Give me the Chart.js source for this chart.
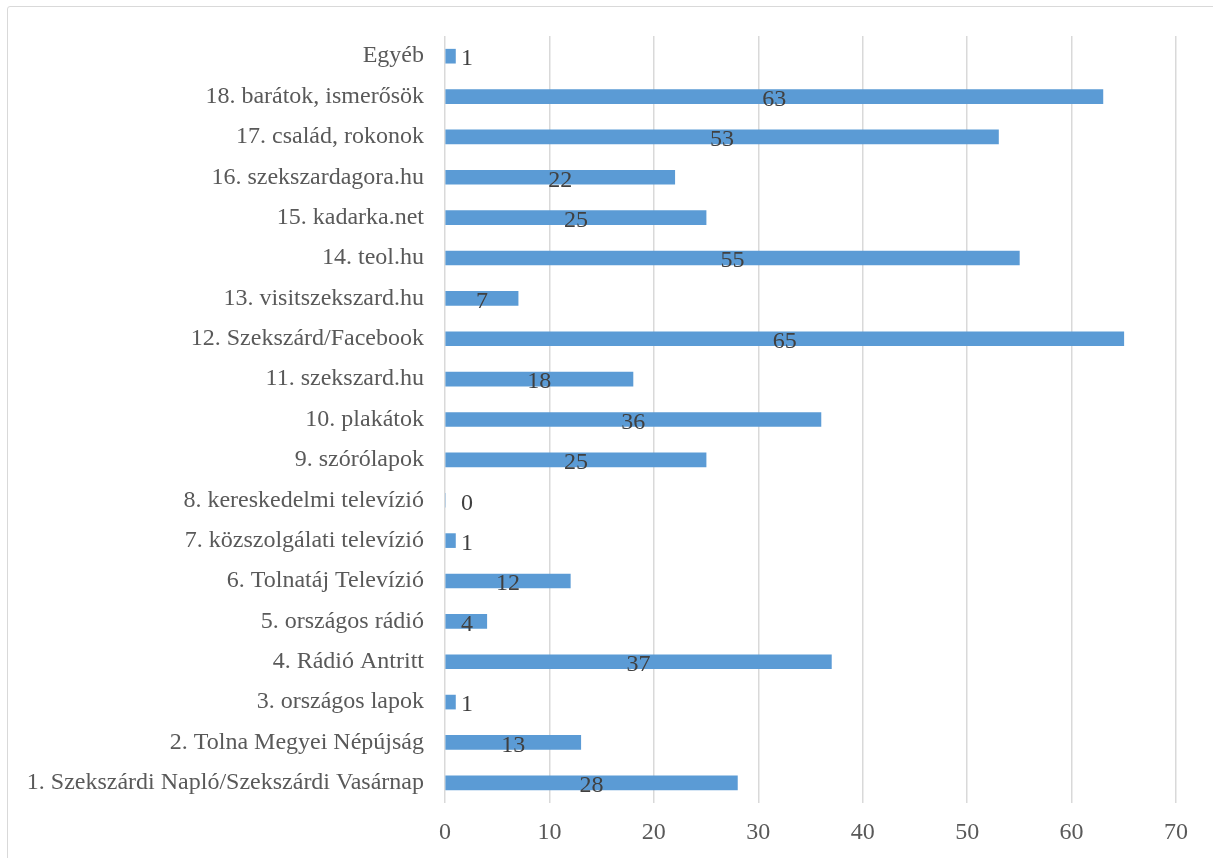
<!DOCTYPE html>
<html>
<head>
<meta charset="utf-8">
<script src="https://cdn.jsdelivr.net/npm/chart.js@4/dist/chart.umd.min.js"></script>
<style>
  html, body { margin: 0; padding: 0; background: #fff; overflow: hidden; }
  #frame { position: absolute; left: 7px; top: 6px; width: 1220px; height: 870px; border: 1.5px solid #d9d9d9; border-radius: 3px; }
  #wrap { position: absolute; left: 0; top: 0; width: 1213px; height: 858px; }
</style>
</head>
<body>
<div id="frame"></div>
<div id="wrap"><canvas id="chart"></canvas></div>
<script>
// Categories, top to bottom as shown in the chart
const categories = [
    'Egyéb',
    '18. barátok, ismerősök',
    '17. család, rokonok',
    '16. szekszardagora.hu',
    '15. kadarka.net',
    '14. teol.hu',
    '13. visitszekszard.hu',
    '12. Szekszárd/Facebook',
    '11. szekszard.hu',
    '10. plakátok',
    '9. szórólapok',
    '8. kereskedelmi televízió',
    '7. közszolgálati televízió',
    '6. Tolnatáj Televízió',
    '5. országos rádió',
    '4. Rádió Antritt',
    '3. országos lapok',
    '2. Tolna Megyei Népújság',
    '1. Szekszárdi Napló/Szekszárdi Vasárnap'
];
const counts = [1, 63, 53, 22, 25, 55, 7, 65, 18, 36, 25, 0, 1, 12, 4, 37, 1, 13, 28];
const xTicks = [0, 10, 20, 30, 40, 50, 60, 70];

const serif = '"Liberation Serif", "Times New Roman", serif';

// Draw value labels in the middle of each bar
const barLabels = {
    id: 'barLabels',
    afterDatasetsDraw(chart) {
        const ctx = chart.ctx;
        const xs = chart.scales.x;
        const minX = xs.getPixelForValue(0) + 22;
        ctx.save();
        ctx.font = '24px ' + serif;
        ctx.fillStyle = '#404040';
        ctx.textAlign = 'center';
        ctx.textBaseline = 'middle';
        chart.getDatasetMeta(0).data.forEach((bar, i) => {
            const x = Math.max((bar.base + bar.x) / 2, minX);
            ctx.fillText(String(counts[i]), x, bar.y + 3);
        });
        ctx.restore();
    }
};

new Chart(document.getElementById('chart').getContext('2d'), {
    type: 'bar',
    data: {
        labels: categories,
        datasets: [{
            data: counts,
            backgroundColor: '#5b9bd5',
            barThickness: 14
        }]
    },
    options: {
        indexAxis: 'y',
        responsive: true,
        maintainAspectRatio: false,
        animation: false,
        layout: { padding: { left: 0, right: 37, top: 36, bottom: 0 } },
        plugins: { legend: { display: false }, tooltip: { enabled: false } },
        scales: {
            x: {
                min: 0,
                max: 70,
                afterBuildTicks: scale => { scale.ticks = xTicks.map(v => ({ value: v })); },
                afterFit: scale => { scale.height = 55; },
                grid: { color: '#d9d9d9', lineWidth: 1.5, drawTicks: false },
                border: { display: false },
                ticks: { padding: 15, color: '#595959', font: { family: serif, size: 24 } }
            },
            y: {
                afterFit: scale => { scale.width = 445; },
                grid: { display: false, drawTicks: false },
                border: { display: false },
                ticks: { padding: 21, color: '#595959', font: { family: serif, size: 24 }, autoSkip: false }
            }
        }
    },
    plugins: [barLabels]
});
</script>
</body>
</html>
